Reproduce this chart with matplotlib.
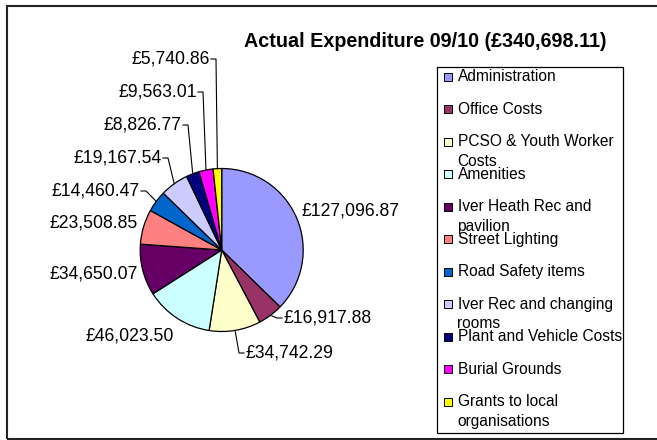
import matplotlib
matplotlib.use("Agg")
import matplotlib.pyplot as plt
from matplotlib.patches import Rectangle
import numpy as np

plt.rcParams['font.family'] = ['Liberation Sans', 'DejaVu Sans']

# data
categories = [
    "Administration", "Office Costs", "PCSO & Youth Worker\nCosts", "Amenities",
    "Iver Heath Rec and\npavilion", "Street Lighting", "Road Safety items",
    "Iver Rec and changing\nrooms", "Plant and Vehicle Costs", "Burial Grounds",
    "Grants to local\norganisations",
]
values = [127096.87, 16917.88, 34742.29, 46023.50, 34650.07, 23508.85,
          14460.47, 19167.54, 8826.77, 9563.01, 5740.86]
colors = ["#9999FF", "#993366", "#FFFFCC", "#CCFFFF", "#660066", "#FF8080",
          "#0066CC", "#CCCCFF", "#000080", "#FF00FF", "#FFFF00"]
title = "Actual Expenditure 09/10 (£340,698.11)"

# layout (pixel coords, y measured from top)
W, H = 657, 440
cx, cy, r = 221.7, 250, 81.5
label_pos = [(302, 211, 'left'), (283, 318, 'left'), (245, 353, 'left'),
             (85, 336, 'left'), (138, 274, 'right'), (138, 223, 'right'),
             (140, 191, 'right'), (162, 158, 'right'), (182, 125, 'right'),
             (197, 92, 'right'), (210, 59, 'right')]
leader = [False, True, True, False, False, False, True, True, True, True, True]


def Y(y):
    return H - y


fig = plt.figure(figsize=(W / 100, H / 100), dpi=100)
ax = fig.add_axes([0, 0, 1, 1])

wedges, _ = ax.pie(values, colors=colors, startangle=90, counterclock=False,
                   center=(cx, Y(cy)), radius=r,
                   wedgeprops=dict(edgecolor='black', linewidth=0.9))
ax.set_xlim(0, W)
ax.set_ylim(0, H)
ax.set_aspect('equal')
ax.axis('off')

# data labels with leader lines
for w, v, (x, y, ha), has_line in zip(wedges, values, label_pos, leader):
    ax.text(x, Y(y), f"£{v:,.2f}", ha=ha, va='center', fontsize=12.7, color='black')
    if has_line:
        mid = np.deg2rad((w.theta1 + w.theta2) / 2)
        axx, ayy = cx + r * np.cos(mid), Y(cy) + r * np.sin(mid)
        if ha == 'left':
            xs = [axx, x - 6, x - 1]
        else:
            xs = [axx, x + 6, x + 1]
        ax.plot(xs, [ayy, Y(y), Y(y)], color='black', linewidth=0.8)

# title
ax.text(425.5, Y(41), title, ha='center', va='center', fontsize=14.2,
        fontweight='bold', color='black')

# legend box
ax.add_patch(Rectangle((437, Y(433)), 186, 366, facecolor='white',
                       edgecolor='black', linewidth=0.9))
for i, (cat, col) in enumerate(zip(categories, colors)):
    y0 = 76.7 + i * 32.5
    ax.add_patch(Rectangle((443.5, Y(y0 + 4)), 8, 8, facecolor=col,
                           edgecolor='black', linewidth=0.7))
    for j, line in enumerate(cat.split('\n')):
        ax.text(457.5, Y(y0 + j * 19.3), line, ha='left', va='center',
                fontsize=11.2, color='black')

# outer chart border
ax.add_patch(Rectangle((7, Y(439)), 700, 433, facecolor='none',
                       edgecolor='#222222', linewidth=1.5, clip_on=False))

fig.savefig("out.png", dpi=100)
